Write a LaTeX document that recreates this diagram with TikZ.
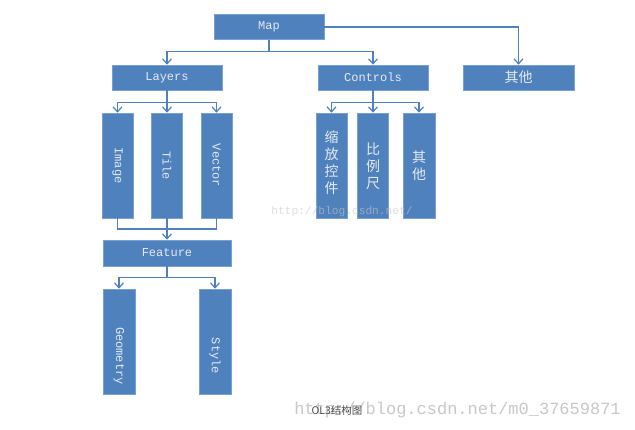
\documentclass[tikz,border=0pt]{standalone}
\usepackage{fontspec}
\setmonofont{Liberation Mono}
\newfontfamily\cjk{Noto Sans CJK SC}
\usetikzlibrary{arrows.meta}
\definecolor{boxblue}{RGB}{79,129,189}
\definecolor{boxedge}{RGB}{120,160,210}
\definecolor{boxtext}{RGB}{228,234,244}
\definecolor{wmgray}{RGB}{200,200,200}
\tikzset{
  box/.style={rectangle, fill=boxblue, draw=boxedge, line width=0.6pt, inner sep=0pt, text=boxtext, font=\ttfamily\fontsize{12}{12}\selectfont},
  hbox/.style={box, minimum width=110pt, minimum height=25pt},
  vbox/.style={box, minimum width=31pt, minimum height=105pt},
  vlabel/.style={text=boxtext, font=\ttfamily\fontsize{12}{12}\selectfont, rotate=-90, inner sep=0pt},
  clabel/.style={text=boxtext, font=\cjk\fontsize{14}{17}\selectfont, align=center, inner sep=0pt},
  conn/.style={draw=boxblue, line width=1.3pt},
  arr/.style={conn, -{Straight Barb[length=5pt,width=9pt,line width=1.2pt]}},
}
\begin{document}
\begin{tikzpicture}[x=1pt,y=-1pt]
\fill[white] (0,0) rectangle (635,430);
\useasboundingbox (0,0) rectangle (635,430);

% top level
\node[hbox] (map) at (269,27) {Map};
\node[hbox] (layers) at (167,77.5) {Layers};
\node[hbox] (controls) at (373,77.5) {Controls};
\node[hbox, minimum width=111pt, font=\cjk\fontsize{14}{14}\selectfont] (other) at (518.5,77.5) {其他};

% layers children
\node[vbox] (image) at (117.5,165.5) {};
\node[vbox] (tile) at (167,165.5) {};
\node[vbox] (vector) at (216.5,165.5) {};
\node[vlabel] (imagel) at (image.center) {Image};
\node[vlabel] (tilel) at (tile.center) {Tile};
\node[vlabel] (vectorl) at (vector.center) {Vector};

% feature
\node[hbox, minimum width=128pt, minimum height=26pt] (feature) at (167,253) {Feature};
\node[vbox, minimum width=32pt] (geometry) at (119,341.5) {};
\node[vbox, minimum width=32pt] (style) at (215,341.5) {};
\node[vlabel] (geometryl) at (119,356) {Geometry};
\node[vlabel] (stylel) at (215,356) {Style};

% controls children
\node[vbox] (zoomc) at (331.5,165.5) {};
\node[vbox] (scale) at (373,165.5) {};
\node[vbox, minimum width=32pt] (cother) at (419,165.5) {};
\node[clabel] (zooml) at (331.5,163) {缩\\放\\控\\件};
\node[clabel] (scalel) at (373,166) {比\\例\\尺};
\node[clabel] (cotherl) at (419,166) {其\\他};

% connectors
\draw[conn] (map.south) -- ++(0,12) coordinate (m1);
\draw[arr] (m1) -| (layers.north);
\draw[arr] (m1) -| (controls.north);
\draw[arr] (map.east) -| (other.north);

\draw[conn] (layers.south) -- ++(0,12) coordinate (l1);
\draw[arr] (l1) -| (image.north);
\draw[arr] (l1) -- (tile.north);
\draw[arr] (l1) -| (vector.north);

\draw[conn] (controls.south) -- ++(0,12) coordinate (c1);
\draw[arr] (c1) -| (zoomc.north);
\draw[arr] (c1) -- (scale.north);
\draw[arr] (c1) -| (cother.north);

\coordinate (f1) at (167,229);
\draw[conn] (image.south) |- (f1) -| (vector.south);
\draw[arr] (tile.south) -- (feature.north);

\draw[conn] (feature.south) -- ++(0,11) coordinate (f2);
\draw[arr] (f2) -| (geometry.north);
\draw[arr] (f2) -| (style.north);

% watermarks and caption
\node[text=wmgray, opacity=0.6, font=\ttfamily\fontsize{11.2}{11.2}\selectfont, inner sep=0pt] (wm1) at (342,212) {http://blog.csdn.net/};
\node[text=wmgray, font=\ttfamily\fontsize{17}{17}\selectfont, inner sep=0pt] (wm2) at (457.5,410) {http://blog.csdn.net/m0\_37659871};
\node[text=black!70, font=\cjk\fontsize{10.5}{10.5}\selectfont, inner sep=0pt] (caption) at (337,411) {OL3结构图};
\end{tikzpicture}
\end{document}
